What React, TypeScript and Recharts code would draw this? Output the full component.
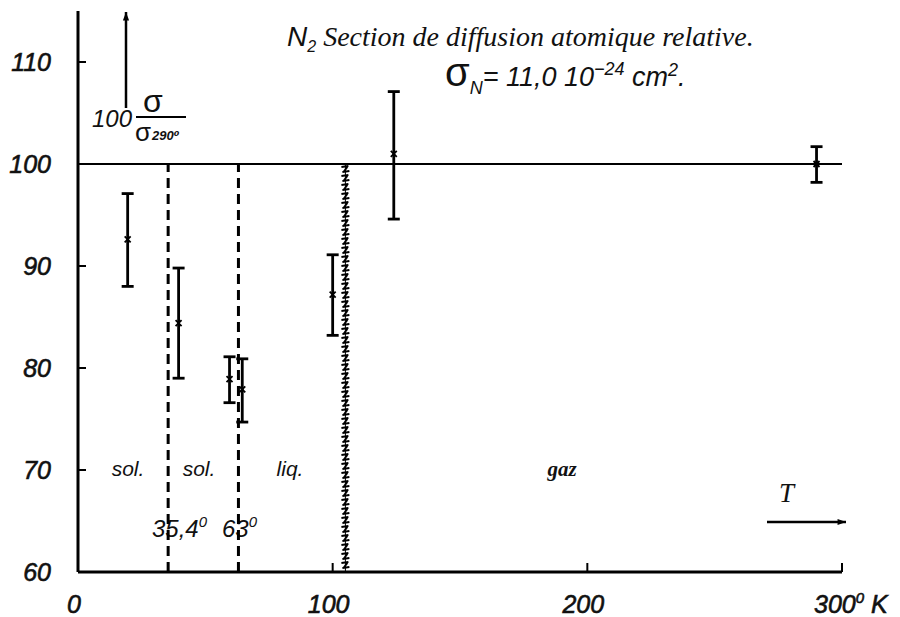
import React from "react";
import {
  ComposedChart,
  Scatter,
  ErrorBar,
  XAxis,
  YAxis,
  ReferenceLine,
} from "recharts";

// temperatures (K) and relative cross section 100·σ/σ290°
const temps = [19.5, 39.5, 59.5, 64.5, 100, 124, 290];
const ratios = [92.6, 84.4, 78.9, 77.9, 87.2, 101.0, 100.0];
const errLow = [4.6, 5.4, 2.3, 3.2, 4.0, 6.4, 1.8];
const errHigh = [4.5, 5.4, 2.2, 3.0, 3.9, 6.1, 1.7];

const xTicks = [0, 100, 200, 300];
const yTicks = [60, 70, 80, 90, 100, 110];

// phase transitions: solid-solid, melting, boiling
const transitions = [35.4, 63];
const boiling = 105;

const data = temps.map((t, i) => ({
  x: t,
  y: ratios[i],
  err: [errLow[i], errHigh[i]],
}));

const numFont = "'Liberation Sans', 'DejaVu Sans', sans-serif";
const serifFont = "'Liberation Serif', 'DejaVu Serif', serif";

function YTick(props: any) {
  const { x, y, payload } = props;
  return (
    <g>
      <line x1={x} x2={x + 8} y1={y} y2={y} stroke="#000" strokeWidth={2} />
      <text
        x={x - 27}
        y={y}
        textAnchor="end"
        dominantBaseline="central"
        fontFamily={numFont}
        fontStyle="italic"
        fontSize={25}
        fill="#111"
        stroke="#111"
        strokeWidth={0.6}
      >
        {payload.value}
      </text>
    </g>
  );
}

function XTick(props: any) {
  const { x, y, payload } = props;
  const v = payload.value;
  const common = {
    fontFamily: numFont,
    fontStyle: "italic" as const,
    fontSize: 25,
    fill: "#111",
    stroke: "#111",
    strokeWidth: 0.6,
  };
  return (
    <g>
      {v > 0 && (
        <line x1={x} x2={x} y1={y} y2={y - 9} stroke="#000" strokeWidth={2} />
      )}
      {v === 300 ? (
        <text x={x - 28} y={y + 41} {...common}>
          300
          <tspan fontSize={15} dy={-10}>
            0
          </tspan>
          <tspan dy={10}> K</tspan>
        </text>
      ) : (
        <text x={x - 4} y={y + 41} textAnchor="middle" {...common}>
          {v}
        </text>
      )}
    </g>
  );
}

function Cross(props: any) {
  const { cx, cy } = props;
  if (cx == null || cy == null) return null;
  return (
    <path
      d={`M${cx - 3},${cy - 3}L${cx + 3},${cy + 3}M${cx - 3},${cy + 3}L${cx + 3},${cy - 3}`}
      stroke="#000"
      strokeWidth={1.8}
    />
  );
}

// hatched "boiling" line drawn as a column of small Z-shaped strokes
function Wavy(props: any) {
  const { x1, y1, y2 } = props;
  if (x1 == null) return null;
  const top = Math.min(y1, y2);
  const bottom = Math.max(y1, y2);
  let d = "";
  for (let yy = top + 3; yy < bottom - 2; yy += 9) {
    d += `M${x1 - 4},${yy}L${x1 + 3},${yy - 1}`;
    d += `M${x1 + 2},${yy}L${x1 - 2},${yy + 5}`;
    d += `M${x1 - 3},${yy + 5}L${x1 + 4},${yy + 4}`;
  }
  return (
    <g>
      <line x1={x1} x2={x1} y1={top} y2={bottom} stroke="#000" strokeWidth={1} />
      <path d={d} stroke="#000" strokeWidth={2} fill="none" />
    </g>
  );
}

function Arrow({ x1, y1, x2, y2 }: any) {
  const ang = Math.atan2(y2 - y1, x2 - x1);
  const h = 9;
  const a = 0.35;
  const p1x = x2 - h * Math.cos(ang - a);
  const p1y = y2 - h * Math.sin(ang - a);
  const p2x = x2 - h * Math.cos(ang + a);
  const p2y = y2 - h * Math.sin(ang + a);
  return (
    <g>
      <line x1={x1} y1={y1} x2={x2} y2={y2} stroke="#000" strokeWidth={2.5} />
      <path d={`M${x2},${y2}L${p1x},${p1y}L${p2x},${p2y}Z`} fill="#000" />
    </g>
  );
}

export default function App() {
  const italicSans = {
    fontFamily: numFont,
    fontStyle: "italic" as const,
    fill: "#111",
  };
  return (
    <div
      style={{
        position: "absolute",
        left: 0,
        top: 0,
        width: 900,
        height: 617,
        background: "#fff",
      }}
    >
      <ComposedChart
        width={900}
        height={617}
        data={data}
        margin={{ top: 11, right: 58, left: 0, bottom: 0 }}
      >
        <XAxis
          type="number"
          dataKey="x"
          domain={[0, 300]}
          ticks={xTicks}
          height={45}
          tickSize={0}
          tickMargin={0}
          tickLine={false}
          axisLine={{ stroke: "#000", strokeWidth: 3 }}
          tick={<XTick />}
          interval={0}
        />
        <YAxis
          type="number"
          domain={[60, 115]}
          ticks={yTicks}
          width={78}
          tickSize={0}
          tickMargin={0}
          tickLine={false}
          axisLine={{ stroke: "#000", strokeWidth: 3 }}
          tick={<YTick />}
          interval={0}
        />
        <ReferenceLine y={100} stroke="#000" strokeWidth={2} />
        {transitions.map((t) => (
          <ReferenceLine
            key={t}
            segment={[
              { x: t, y: 60 },
              { x: t, y: 100 },
            ]}
            stroke="#000"
            strokeWidth={3}
            strokeDasharray="10 6"
          />
        ))}
        <ReferenceLine
          segment={[
            { x: boiling, y: 60 },
            { x: boiling, y: 100 },
          ]}
          shape={(p: any) => <Wavy {...p} />}
        />
        <Scatter dataKey="y" isAnimationActive={false} shape={<Cross />}>
          <ErrorBar
            dataKey="err"
            direction="y"
            width={6}
            stroke="#000"
            strokeWidth={2.8}
            isAnimationActive={false}
          />
        </Scatter>

        {/* title and annotations */}
        <text x={287} y={46} fontSize={28} fill="#111">
          <tspan fontFamily={numFont} fontStyle="italic">N</tspan>
          <tspan fontFamily={numFont} fontStyle="italic" fontSize={16} dy={6}>
            2
          </tspan>
          <tspan fontFamily={serifFont} fontStyle="italic" dy={-6}>
            {" Section de diffusion atomique relative."}
          </tspan>
        </text>
        <text x={445} y={86} fontSize={27} {...italicSans}>
          <tspan fontSize={40} fontStyle="normal">σ</tspan>
          <tspan fontSize={18} dy={8}>N</tspan>
          <tspan dy={-8}>{"= 11,0  10"}</tspan>
          <tspan fontSize={18} dy={-11}>−24</tspan>
          <tspan dy={11}>{" cm"}</tspan>
          <tspan fontSize={18} dy={-10}>2</tspan>
          <tspan dy={10}>.</tspan>
        </text>

        <Arrow x1={126} y1={108} x2={126} y2={12} />
        <text x={92} y={127} fontSize={24} {...italicSans}>
          100
        </text>
        <text x={143} y={112} fontSize={32} fontFamily={numFont} fill="#111">
          σ
        </text>
        <line x1={136} x2={186} y1={117} y2={117} stroke="#000" strokeWidth={2} />
        <text x={135} y={141} fontSize={26} fontFamily={numFont} fill="#111">
          σ
        </text>
        <text x={152} y={140} fontSize={13} {...italicSans} fontWeight="bold">
          290⁰
        </text>

        <text x={128} y={476} textAnchor="middle" fontSize={21} {...italicSans}>
          sol.
        </text>
        <text x={199} y={476} textAnchor="middle" fontSize={21} {...italicSans}>
          sol.
        </text>
        <text x={290} y={476} textAnchor="middle" fontSize={21} {...italicSans}>
          liq.
        </text>
        <text
          x={562}
          y={476}
          textAnchor="middle"
          fontSize={21}
          fontFamily={serifFont}
          fontStyle="italic"
          fontWeight="bold"
          fill="#111"
        >
          gaz
        </text>
        <text x={152} y={537} fontSize={24} {...italicSans}>
          35,4
          <tspan fontSize={15} dy={-10}>0</tspan>
        </text>
        <text x={222} y={537} fontSize={24} {...italicSans}>
          63
          <tspan fontSize={15} dy={-10}>0</tspan>
        </text>
        <text
          x={779}
          y={502}
          fontSize={27}
          fontFamily={serifFont}
          fontStyle="italic"
          fill="#111"
        >
          T
        </text>
        <Arrow x1={767} y1={522} x2={846} y2={522} />
      </ComposedChart>
    </div>
  );
}
